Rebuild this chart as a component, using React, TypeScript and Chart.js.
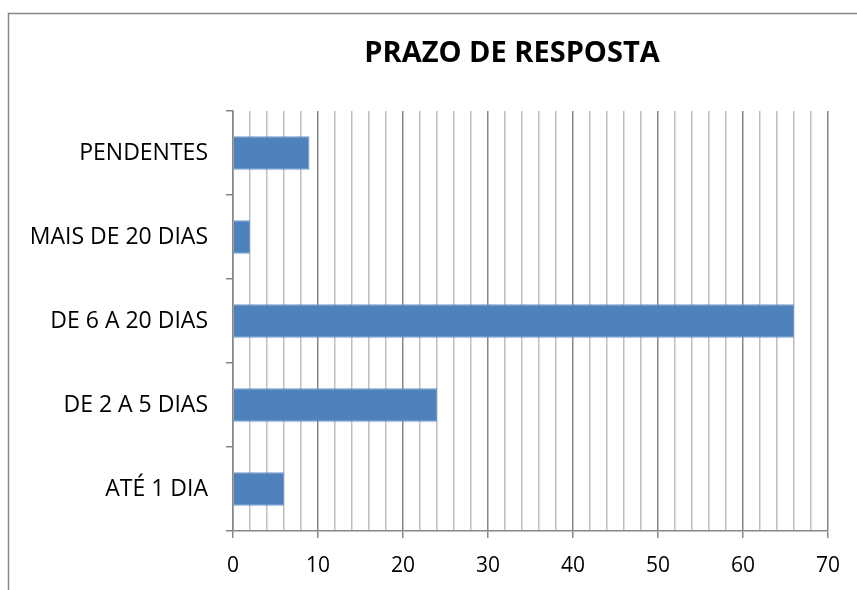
import React, { useEffect, useRef } from "react";
import { Chart, registerables } from "chart.js";

Chart.register(...registerables);

const title = "PRAZO DE RESPOSTA";
const categories = ["PENDENTES", "MAIS DE 20 DIAS", "DE 6 A 20 DIAS", "DE 2 A 5 DIAS", "ATÉ 1 DIA"];
const values = [9, 2, 66, 24, 6];
const xMin = 0;
const xMax = 70;
const xStep = 2;
const xLabelStep = 10;

const FONT = "'Open Sans', 'Liberation Sans', sans-serif";
const DARK = "#868686";
const LIGHT = "#bebebe";

export default function App() {
  const ref = useRef<HTMLCanvasElement | null>(null);
  useEffect(() => {
    if (!ref.current) return;
    const frame = {
      id: "frame",
      beforeDraw(chart: any) {
        const c = chart.ctx;
        c.save();
        c.fillStyle = "#fff";
        c.fillRect(0, 0, chart.width, chart.height);
        c.strokeStyle = DARK;
        c.lineWidth = 1.5;
        c.beginPath();
        c.moveTo(8.5, chart.height);
        c.lineTo(8.5, 13.5);
        c.lineTo(chart.width, 13.5);
        c.stroke();
        c.fillStyle = "#000";
        c.font = `bold 29px ${FONT}`;
        c.textAlign = "center";
        c.textBaseline = "middle";
        c.fillText(title, 512, 54);
        c.restore();
      },
    };
    const chart = new Chart(ref.current, {
      type: "bar",
      data: {
        labels: categories,
        datasets: [
          {
            data: values,
            backgroundColor: "#4F81BD",
            borderColor: "#7097c9",
            borderWidth: 1,
            barPercentage: 0.4,
            categoryPercentage: 1,
          },
        ],
      },
      options: {
        indexAxis: "y",
        responsive: false,
        animation: false,
        layout: { padding: { left: 0, right: 29, top: 111, bottom: 0 } },
        plugins: { legend: { display: false }, title: { display: false }, tooltip: { enabled: false } },
        scales: {
          x: {
            min: xMin,
            max: xMax,
            ticks: {
              stepSize: xStep,
              autoSkip: false,
              maxRotation: 0,
              padding: 15,
              color: "#000",
              font: { family: FONT, size: 21 },
              callback: (v: any) => (Number(v) % xLabelStep === 0 ? String(v) : ""),
            },
            grid: {
              color: (ctx: any) => (ctx.tick && ctx.tick.value % xLabelStep === 0 ? DARK : LIGHT),
              tickColor: (ctx: any) => (ctx.tick && ctx.tick.value % xLabelStep === 0 ? DARK : "rgba(0,0,0,0)"),
              lineWidth: 1.5,
              tickLength: 7,
            },
            border: { color: DARK, width: 1.5 },
            afterFit: (s: any) => {
              s.height = 59;
            },
          },
          y: {
            ticks: {
              color: "#000",
              padding: 18,
              font: { family: FONT, size: 23 },
            },
            grid: {
              offset: true,
              drawOnChartArea: false,
              color: DARK,
              lineWidth: 1.5,
              tickLength: 7,
            },
            border: { color: DARK, width: 1.5 },
            afterFit: (s: any) => {
              s.width = 233;
            },
          },
        },
      },
      plugins: [frame],
    });
    return () => chart.destroy();
  }, []);
  return (
    <div style={{ position: "fixed", left: 0, top: 0, width: 857, height: 590, background: "#fff" }}>
      <canvas ref={ref} width={857} height={590} />
    </div>
  );
}
